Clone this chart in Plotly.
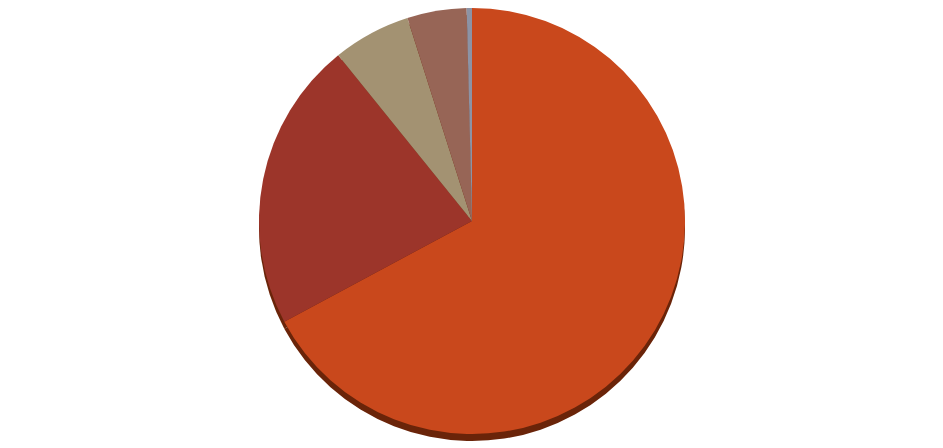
import plotly.graph_objects as go

# slice shares, clockwise from 12 o'clock
labels = ['A', 'B', 'C', 'D', 'E']
values = [67.1, 22.0, 5.9, 4.5, 0.4]
colors = ['#C9481C', '#9C352A', '#A39272', '#976556', '#8C93A5']

W, H = 943, 448
# pixel centre / radius of the pie (page has an 8px body margin)
cx, cy, r = 464, 213, 213


def dom(dx=0, dy=0):
    x0 = (cx - r + dx) / W
    x1 = (cx + r + dx) / W
    y0 = 1 - (cy + r + dy) / H
    y1 = 1 - (cy - r + dy) / H
    return dict(x=[max(x0, 0), min(x1, 1)], y=[max(y0, 0), min(y1, 1)])


fig = go.Figure()

# dark rim under the pie (3d look)
fig.add_trace(go.Pie(
    labels=labels, values=values, sort=False, direction='clockwise', rotation=0,
    marker=dict(colors=['#6A2409'] * len(values), line=dict(width=0)),
    textinfo='none', hoverinfo='skip', showlegend=False,
    domain=dom(0, 7)
))

fig.add_trace(go.Pie(
    labels=labels, values=values, sort=False, direction='clockwise', rotation=0,
    marker=dict(colors=colors, line=dict(width=0)),
    textinfo='none', showlegend=False,
    domain=dom()
))

fig.update_layout(
    width=W, height=H,
    margin=dict(l=0, r=0, t=0, b=0),
    paper_bgcolor='white', plot_bgcolor='white',
)

fig.write_html("out.html")
